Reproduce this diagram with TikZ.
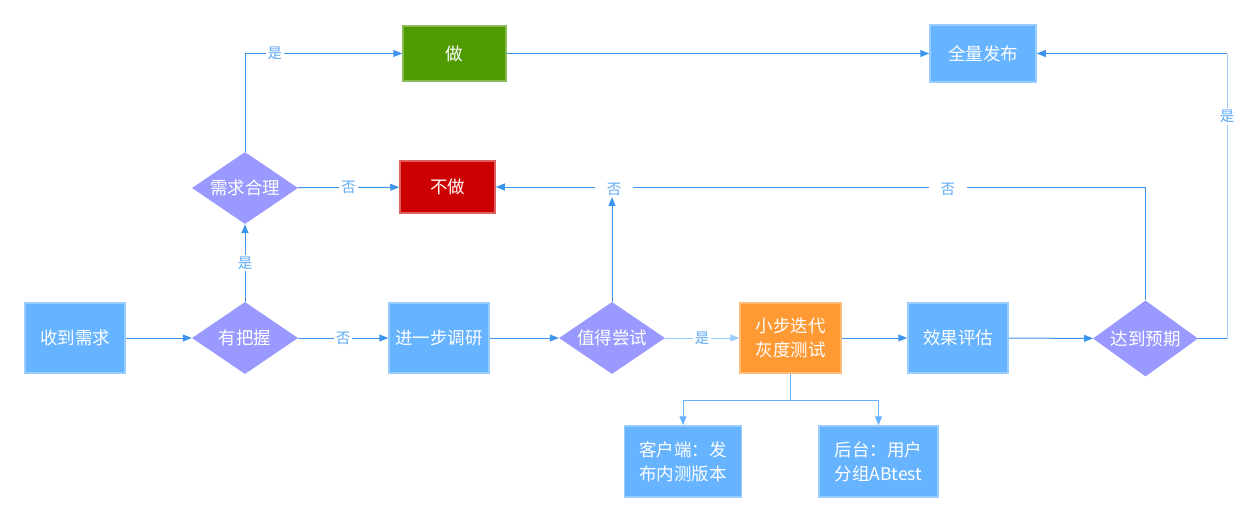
\documentclass[tikz,border=0pt]{standalone}
\usepackage{fontspec}
\setmainfont{Noto Sans CJK SC}
\usetikzlibrary{arrows.meta,shapes.geometric}
\definecolor{linec}{HTML}{3C94EC}
\definecolor{lightc}{HTML}{99CCFF}
\definecolor{midc}{HTML}{66B2FF}
\definecolor{labc}{HTML}{5EAAF5}
\definecolor{boxblue}{HTML}{66B3FF}
\definecolor{boxborder}{HTML}{99CCFF}
\definecolor{diafill}{HTML}{9999FF}
\definecolor{orangef}{HTML}{FF9933}
\definecolor{orangeb}{HTML}{FFBB77}
\definecolor{greenf}{HTML}{4E9A00}
\definecolor{greenb}{HTML}{88BB55}
\definecolor{redf}{HTML}{CC0000}
\definecolor{redb}{HTML}{E06060}
\begin{document}
\begin{tikzpicture}[x=1pt,y=-1pt,
 box/.style={draw=boxborder, line width=1.5pt, fill=boxblue, text=white, minimum width=100pt, minimum height=70pt, inner sep=0pt, font=\fontsize{17.5}{24}\selectfont, align=center},
 dia/.style={diamond, aspect=1.47, fill=diafill, text=white, minimum width=106pt, minimum height=72pt, inner sep=0pt, font=\fontsize{17.5}{21}\selectfont},
 conn/.style={draw=linec, line width=1pt, -{Triangle[length=9pt,width=7pt]}},
 plain/.style={draw=linec, line width=1pt},
 lab/.style={fill=white, text=labc, font=\fontsize{14.5}{16}\selectfont, inner sep=2pt},
 widelab/.style={lab, inner xsep=12pt, yshift=-2pt}
]
\useasboundingbox (0,0) rectangle (1252,522);

\node[box] (sj) at (75,338) {收到需求};
\node[dia] (bw) at (245,338) {有把握};
\node[box] (dy) at (439,338) {进一步调研};
\node[dia] (zd) at (612,338) {值得尝试};
\node[box, fill=orangef, draw=orangeb, minimum width=101pt] (xb) at (790.5,338) {小步迭代\\灰度测试};
\node[box] (xg) at (958,338) {效果评估};
\node[dia, minimum width=105pt, minimum height=76pt] (dd) at (1145.5,338.5) {达到预期};
\node[dia] (hl) at (245,188) {需求合理};
\node[box, fill=greenf, draw=greenb, minimum width=103pt, minimum height=55pt] (zuo) at (454.5,53.5) {做};
\node[box, fill=redf, draw=redb, minimum width=95pt, minimum height=52pt] (bz) at (447.5,187) {不做};
\node[box, minimum width=106pt, minimum height=57pt] (qf) at (983,53.5) {全量发布};
\node[box, minimum width=117pt, minimum height=71pt] (kh) at (683,461.5) {客户端：发\\布内测版本};
\node[box, minimum width=119pt, minimum height=71pt] (ht) at (878.5,461.5) {后台：用户\\分组ABtest};

\coordinate (zt) at (612,197);
\coordinate (rr) at (1227,338.5);
\coordinate (rt) at (1227,53.5);
\coordinate (sp) at (790.5,400);

\draw[conn] (sj) -- (bw);
\draw[conn] (bw) -- node[lab]{否} (dy);
\draw[conn] (dy) -- (zd);
\draw[conn, draw=lightc] (zd) -- node[lab]{是} (xb);
\draw[conn] (xb) -- (xg);
\draw[conn] (xg) -- (dd);
\draw[conn] (bw) -- node[lab]{是} (hl);
\draw[conn] (hl) -- node[lab]{否} (bz);
\draw[conn] (hl.north) |- node[lab, pos=0.595]{是} (zuo.west);
\draw[conn] (zuo) -- (qf);
\draw[conn] (dd.north) |- node[widelab, pos=0.652]{否} node[widelab, pos=0.909]{否} (bz.east);
\draw[conn] (zd.north) -- (zt);
\draw[plain] (dd.east) -- (rr);
\draw[draw=lightc, line width=1pt] (rr) -- node[lab, pos=0.778]{是} (rt);
\draw[conn] (rt) -- (qf.east);
\draw[draw=midc, line width=1pt] (xb.south) -- (sp);
\draw[conn, draw=midc] (sp) -| (kh.north);
\draw[conn, draw=midc] (sp) -| (ht.north);
\end{tikzpicture}
\end{document}
